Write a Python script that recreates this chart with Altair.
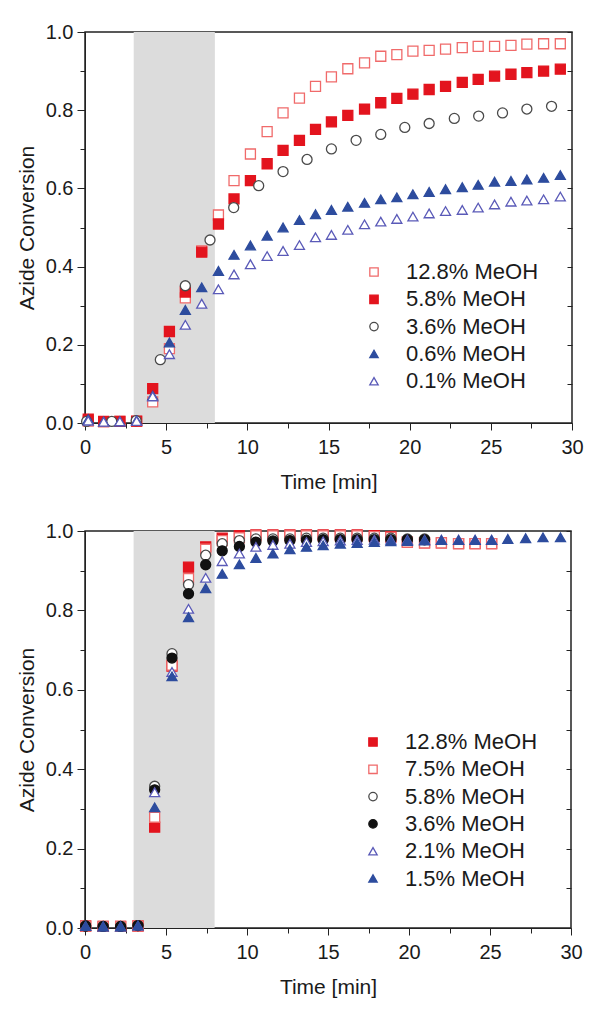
import altair as alt
import pandas as pd

# ---- top panel ----
top_series = ["12.8% MeOH", "5.8% MeOH", "3.6% MeOH", "0.6% MeOH", "0.1% MeOH"]
top_time = [0.2, 1.15, 2.15, 3.18, 4.17, 5.2, 6.18, 7.19, 8.22, 9.18, 10.19, 11.22,
            12.2, 13.21, 14.2, 15.18, 16.19, 17.22, 18.22, 19.21, 20.2, 21.2, 22.21,
            23.24, 24.22, 25.23, 26.24, 27.22, 28.25, 29.28]
top_time_36 = [0.1, 1.65, 3.15, 4.64, 6.18, 7.7, 9.16, 10.7, 12.2, 13.68, 15.18,
               16.7, 18.22, 19.7, 21.2, 22.75, 24.25, 25.72, 27.22, 28.74]
top_128 = [0.005, 0.003, 0.004, 0.004, 0.054, 0.19, 0.32, 0.44, 0.532, 0.62, 0.688,
           0.745, 0.793, 0.831, 0.861, 0.885, 0.906, 0.921, 0.938, 0.942, 0.951, 0.953,
           0.956, 0.96, 0.963, 0.963, 0.966, 0.969, 0.97, 0.97]
top_58 = [0.01, 0.004, 0.004, 0.005, 0.088, 0.234, 0.335, 0.437, 0.509, 0.573, 0.62,
          0.663, 0.697, 0.723, 0.751, 0.77, 0.787, 0.803, 0.819, 0.83, 0.841, 0.853,
          0.861, 0.871, 0.879, 0.887, 0.892, 0.896, 0.9, 0.905]
top_36 = [0.004, 0.004, 0.006, 0.162, 0.351, 0.468, 0.551, 0.607, 0.643, 0.674, 0.701,
          0.723, 0.738, 0.756, 0.766, 0.779, 0.785, 0.793, 0.803, 0.81]
top_06 = [0.01, 0.004, 0.004, 0.007, 0.07, 0.206, 0.289, 0.347, 0.389, 0.43, 0.454,
          0.479, 0.5, 0.519, 0.534, 0.545, 0.553, 0.563, 0.572, 0.577, 0.585, 0.591,
          0.598, 0.603, 0.609, 0.617, 0.619, 0.623, 0.627, 0.634]
top_01 = [0.006, 0.003, 0.004, 0.005, 0.068, 0.176, 0.251, 0.305, 0.342, 0.38, 0.406,
          0.427, 0.44, 0.455, 0.475, 0.481, 0.494, 0.508, 0.515, 0.522, 0.528, 0.536,
          0.542, 0.545, 0.551, 0.559, 0.566, 0.569, 0.572, 0.579]

# ---- bottom panel ----
bot_series = ["12.8% MeOH", "7.5% MeOH", "5.8% MeOH", "3.6% MeOH", "2.1% MeOH", "1.5% MeOH"]
bot_time = [0.04, 1.12, 2.2, 3.27, 4.3, 5.37, 6.39, 7.45, 8.47, 9.53, 10.55, 11.6,
            12.65, 13.67, 14.7, 15.76, 16.8, 17.86, 18.88, 19.9, 20.96, 22.0, 23.06,
            24.08, 25.1, 26.1, 27.2, 28.27, 29.35]
bot_128 = [0.005, 0.004, 0.004, 0.005, 0.254, 0.66, 0.909, 0.96, 0.982, 0.988, 0.99,
           0.99, 0.99, 0.99, 0.99, 0.99, 0.99, 0.988, 0.986, 0.972, 0.97, 0.97, 0.968,
           0.968, 0.968]
bot_75 = [0.005, 0.004, 0.004, 0.005, 0.279, 0.662, 0.88, 0.954, 0.976, 0.983, 0.988,
          0.988, 0.988, 0.988, 0.988, 0.988, 0.988, 0.986, 0.984, 0.972, 0.97, 0.97,
          0.968, 0.968, 0.968]
bot_58 = [0.005, 0.004, 0.004, 0.006, 0.357, 0.691, 0.865, 0.939, 0.968, 0.976, 0.98,
          0.98, 0.98, 0.982, 0.982, 0.982, 0.982, 0.982, 0.982, 0.98, 0.98]
bot_36 = [0.005, 0.004, 0.004, 0.006, 0.348, 0.68, 0.842, 0.915, 0.95, 0.961, 0.972,
          0.975, 0.976, 0.977, 0.978, 0.978, 0.978, 0.978, 0.978, 0.978, 0.978]
bot_21 = [0.005, 0.004, 0.004, 0.006, 0.342, 0.645, 0.804, 0.882, 0.924, 0.943, 0.96,
          0.965, 0.968, 0.972, 0.974, 0.976, 0.977, 0.978, 0.978, 0.978, 0.978, 0.978,
          0.978, 0.978, 0.978]
bot_15 = [0.005, 0.004, 0.004, 0.006, 0.304, 0.634, 0.783, 0.856, 0.892, 0.916, 0.932,
          0.943, 0.954, 0.96, 0.964, 0.968, 0.97, 0.972, 0.974, 0.975, 0.976, 0.977,
          0.977, 0.977, 0.977, 0.98, 0.982, 0.984, 0.984]

x_ticks = [0, 2.5, 5, 7.5, 10, 12.5, 15, 17.5, 20, 22.5, 25, 27.5, 30]
y_ticks = [0.0, 0.1, 0.2, 0.3, 0.4, 0.5, 0.6, 0.7, 0.8, 0.9, 1.0]
shade = pd.DataFrame({"start": [3], "end": [8], "lo": [0], "hi": [1]})

RED = "#e3141e"
PINK = "#f06a6a"
GREY = "#4a4a4a"
BLACK = "#111111"
BLUE = "#2d4c9e"
VIOLET = "#5a5ab8"


def frame(rows):
    return pd.DataFrame(rows, columns=["series", "time", "conv"])


def panel(df, series, shapes, strokes, fills, w, h, lx, ly):
    xs = alt.Scale(domain=[0, 30], nice=False)
    ys = alt.Scale(domain=[0, 1], nice=False)
    x_axis = alt.Axis(
        values=x_ticks, labelFlush=False, labelOverlap=False,
        labelPadding=7, titlePadding=14,
        labelExpr="datum.value % 5 == 0 ? format(datum.value, 'd') : ''",
        tickSize={"condition": {"test": "datum.value % 5 != 0", "value": 5}, "value": 7})
    band = alt.Chart(shade).mark_rect(color="#dcdcdc").encode(
        x=alt.X("start:Q", scale=xs, title="Time [min]", axis=x_axis),
        x2="end:Q",
        y=alt.Y("lo:Q", scale=ys, axis=alt.Axis(
            orient="right", values=y_ticks, labels=False, domain=False,
            tickSize=5, offset=-5, title=None)),
        y2="hi:Q",
    )
    pts = alt.Chart(df).mark_point(size=100, opacity=1, strokeWidth=1.3).encode(
        x=alt.X("time:Q", scale=xs, title="Time [min]", axis=x_axis),
        y=alt.Y("conv:Q", scale=ys, title="Azide Conversion", axis=alt.Axis(
            orient="left", values=y_ticks, labelOverlap=False,
            labelExpr="round(datum.value * 10) % 2 == 0 ? format(datum.value, '.1f') : ''",
            tickSize={"condition": {"test": "round(datum.value * 10) % 2 == 1", "value": 5}, "value": 8})),
        shape=alt.Shape("series:N", scale=alt.Scale(domain=series, range=shapes),
                        legend=alt.Legend(orient="none", legendX=lx, legendY=ly, title=None)),
        stroke=alt.Stroke("series:N", scale=alt.Scale(domain=series, range=strokes)),
        fill=alt.Fill("series:N", scale=alt.Scale(domain=series, range=fills)),
    )
    return alt.layer(band, pts).resolve_axis(y="independent").properties(width=w, height=h)


top_rows = []
for name, vals in zip(top_series, [top_128, top_58, top_36, top_06, top_01]):
    times = top_time_36 if name == "3.6% MeOH" else top_time
    top_rows += [(name, t, v) for t, v in zip(times, vals)]

bot_rows = []
for name, vals in zip(bot_series, [bot_128, bot_75, bot_58, bot_36, bot_21, bot_15]):
    bot_rows += [(name, t, v) for t, v in zip(bot_time, vals)]

top = panel(frame(top_rows), top_series,
            ["square", "square", "circle", "triangle-up", "triangle-up"],
            [PINK, RED, GREY, BLUE, VIOLET],
            ["white", RED, "white", BLUE, "white"],
            487, 391, 278, 229)
bottom = panel(frame(bot_rows), bot_series,
               ["square", "square", "circle", "circle", "triangle-up", "triangle-up"],
               [RED, PINK, GREY, BLACK, VIOLET, BLUE],
               [RED, "white", "white", BLACK, "white", BLUE],
               486, 397, 277, 200)

chart = alt.vconcat(top, bottom, spacing=27).resolve_scale(
    shape="independent", stroke="independent", fill="independent"
).resolve_legend(
    shape="independent", stroke="independent", fill="independent"
).properties(
    padding={"top": 13, "left": 7, "right": 5, "bottom": 5}
).configure_axis(
    labelFont="Liberation Sans", titleFont="Liberation Sans",
    labelFontSize=20, titleFontSize=21, titleFontWeight="normal",
    labelColor="#1a1a1a", titleColor="#1a1a1a", tickColor="#222222",
    domainColor="#222222", grid=False, labelPadding=4, titlePadding=8,
).configure_legend(
    labelFont="Liberation Sans", labelFontSize=22, labelColor="#1a1a1a",
    symbolSize=70, symbolStrokeWidth=1.3, labelOffset=21, rowPadding=5.3,
).configure_view(stroke="#222222", strokeWidth=1.5)

chart.save("out.html", embed_options={"renderer": "svg", "actions": False})
